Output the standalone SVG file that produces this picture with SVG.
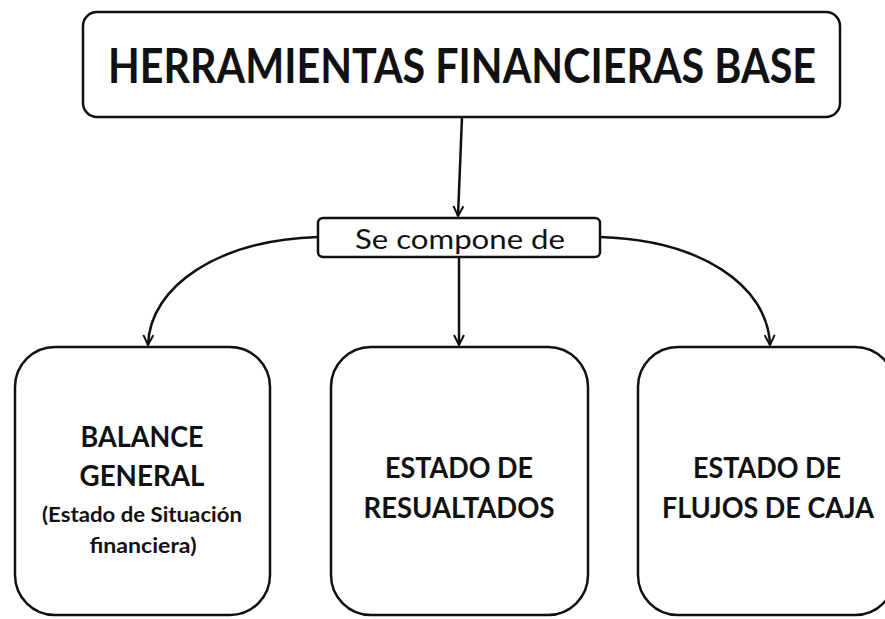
<svg xmlns="http://www.w3.org/2000/svg" width="885" height="619" viewBox="0 0 885 619">
<defs>
<style>
.box{fill:#fff;stroke:#111;stroke-width:2.5}
.t{font-family:Lato,"Liberation Sans",sans-serif;fill:#111;text-anchor:middle;font-weight:bold}
.c{fill:none;stroke:#111;stroke-width:2.5}
</style>
<marker id="ah" viewBox="0 0 12 12" refX="11" refY="6" markerWidth="12" markerHeight="12" markerUnits="userSpaceOnUse" orient="auto">
<path d="M1,1 L11,6 L1,11" fill="none" stroke="#111" stroke-width="2"/>
</marker>
</defs>
<rect width="885" height="619" fill="#fff"/>
<g id="title">
<rect class="box" x="83" y="12" width="757" height="105" rx="14"/>
<text class="t" transform="translate(462,83) scale(1,1.18)" x="0" y="0" font-size="40" textLength="708" lengthAdjust="spacingAndGlyphs">HERRAMIENTAS FINANCIERAS BASE</text>
</g>
<g id="compone">
<rect class="box" x="318" y="218" width="282" height="39" rx="5"/>
<text class="t" x="460" y="249" font-size="26" style="font-weight:normal" textLength="210" lengthAdjust="spacingAndGlyphs">Se compone de</text>
</g>
<g id="balance">
<rect class="box" x="15" y="347" width="255" height="268" rx="40"/>
<text class="t" x="142" y="447" font-size="28" textLength="123" lengthAdjust="spacingAndGlyphs">BALANCE</text>
<text class="t" x="142" y="486" font-size="28" textLength="125" lengthAdjust="spacingAndGlyphs">GENERAL</text>
<text class="t" x="142" y="522" font-size="20" textLength="200" lengthAdjust="spacingAndGlyphs">(Estado de Situación</text>
<text class="t" x="143" y="553" font-size="20" textLength="107" lengthAdjust="spacingAndGlyphs">financiera)</text>
</g>
<g id="resultados">
<rect class="box" x="331" y="347" width="257" height="268" rx="40"/>
<text class="t" x="459" y="478" font-size="28" textLength="148" lengthAdjust="spacingAndGlyphs">ESTADO DE</text>
<text class="t" x="459" y="518" font-size="28" textLength="191" lengthAdjust="spacingAndGlyphs">RESUALTADOS</text>
</g>
<g id="flujos">
<rect class="box" x="638" y="347" width="257" height="268" rx="40"/>
<text class="t" x="767" y="478" font-size="28" textLength="148" lengthAdjust="spacingAndGlyphs">ESTADO DE</text>
<text class="t" x="768" y="518" font-size="28" textLength="212" lengthAdjust="spacingAndGlyphs">FLUJOS DE CAJA</text>
</g>
<g id="connectors">
<path class="c" d="M462,117 L458,216" marker-end="url(#ah)"/>
<path class="c" d="M459,257 L459,345" marker-end="url(#ah)"/>
<path class="c" d="M318,237 C220,240 150,285 148,345" marker-end="url(#ah)"/>
<path class="c" d="M600,237 C700,240 768,285 770,345" marker-end="url(#ah)"/>
</g>
</svg>
